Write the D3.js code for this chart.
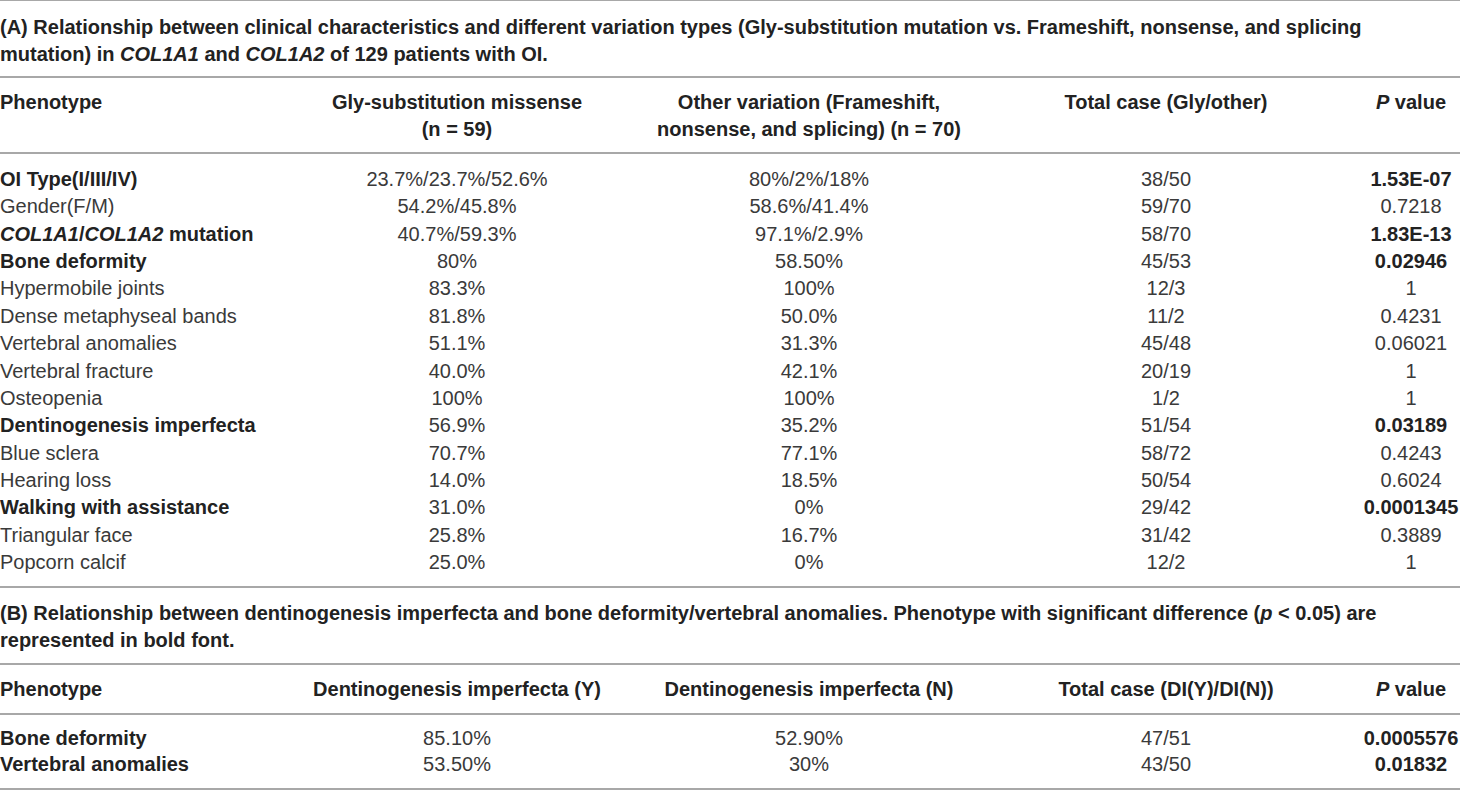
<!DOCTYPE html>
<html>
<head>
<meta charset="utf-8">
<script src="https://cdn.jsdelivr.net/npm/d3@7"></script>
<style>
  body { margin: 0; background: #fff; }
  text { font-family: "Liberation Sans", Arial, Helvetica, sans-serif; font-size: 20px; }
  .bold { font-weight: bold; fill: #222; }
  .reg { fill: #3a3a3a; }
  .rule { stroke: #a8a8a8; stroke-width: 2px; }
</style>
</head>
<body>
<div id="chart"></div>
<script>
// ---- table (A) ----
const titleA = [
  "(A) Relationship between clinical characteristics and different variation types (Gly-substitution mutation vs. Frameshift, nonsense, and splicing",
  "mutation) in _COL1A1_ and _COL1A2_ of 129 patients with OI."
];
const headersA = [
  ["Phenotype"],
  ["Gly-substitution missense", "(n = 59)"],
  ["Other variation (Frameshift,", "nonsense, and splicing) (n = 70)"],
  ["Total case (Gly/other)"],
  ["_P_ value"]
];
const phenotypesA = [
  "OI Type(I/III/IV)", "Gender(F/M)", "_COL1A1_/_COL1A2_ mutation", "Bone deformity",
  "Hypermobile joints", "Dense metaphyseal bands", "Vertebral anomalies", "Vertebral fracture",
  "Osteopenia", "Dentinogenesis imperfecta", "Blue sclera", "Hearing loss",
  "Walking with assistance", "Triangular face", "Popcorn calcif"
];
const glyA = ["23.7%/23.7%/52.6%", "54.2%/45.8%", "40.7%/59.3%", "80%", "83.3%", "81.8%", "51.1%",
  "40.0%", "100%", "56.9%", "70.7%", "14.0%", "31.0%", "25.8%", "25.0%"];
const otherA = ["80%/2%/18%", "58.6%/41.4%", "97.1%/2.9%", "58.50%", "100%", "50.0%", "31.3%",
  "42.1%", "100%", "35.2%", "77.1%", "18.5%", "0%", "16.7%", "0%"];
const totalA = ["38/50", "59/70", "58/70", "45/53", "12/3", "11/2", "45/48", "20/19", "1/2",
  "51/54", "58/72", "50/54", "29/42", "31/42", "12/2"];
const pA = ["1.53E-07", "0.7218", "1.83E-13", "0.02946", "1", "0.4231", "0.06021", "1", "1",
  "0.03189", "0.4243", "0.6024", "0.0001345", "0.3889", "1"];

// ---- table (B) ----
const titleB = [
  "(B) Relationship between dentinogenesis imperfecta and bone deformity/vertebral anomalies. Phenotype with significant difference (_p_ < 0.05) are",
  "represented in bold font."
];
const headersB = [
  ["Phenotype"],
  ["Dentinogenesis imperfecta (Y)"],
  ["Dentinogenesis imperfecta (N)"],
  ["Total case (DI(Y)/DI(N))"],
  ["_P_ value"]
];
const phenotypesB = ["Bone deformity", "Vertebral anomalies"];
const diYes = ["85.10%", "53.50%"];
const diNo = ["52.90%", "30%"];
const totalB = ["47/51", "43/50"];
const pB = ["0.0005576", "0.01832"];

const width = 1460, height = 791;
const alpha = 0.05;

const svg = d3.select("#chart").append("svg")
    .attr("width", width)
    .attr("height", height);

// column placement
const colX = d3.scaleOrdinal().domain([0, 1, 2, 3, 4]).range([0, 457, 809, 1166, 1411]);
const colAnchor = i => i === 0 ? "start" : "middle";

// text with _italic_ segments
function richText(sel, str) {
    str.split("_").forEach((part, i) => {
        if (part === "") return;
        sel.append("tspan")
            .style("font-style", i % 2 === 1 ? "italic" : "normal")
            .text(part);
    });
}

function rule(y) {
    svg.append("line").attr("class", "rule")
        .attr("x1", 0).attr("x2", width)
        .attr("y1", y).attr("y2", y);
}

function drawTable(opt) {
    let g = svg.append("g");

    // caption
    opt.title.forEach((line, i) => {
        g.append("text").attr("class", "bold")
            .attr("x", 0).attr("y", opt.titleY + i * 27)
            .call(richText, line);
    });

    // header
    opt.headers.forEach((lines, c) => {
        lines.forEach((line, i) => {
            g.append("text").attr("class", "bold")
                .attr("x", colX(c)).attr("y", opt.headerY + i * 27)
                .attr("text-anchor", colAnchor(c))
                .call(richText, line);
        });
    });

    // body rows
    let y = d3.scaleLinear()
        .domain([0, opt.rows.length - 1])
        .range(opt.rowRange);

    let rows = g.selectAll(".row")
        .data(opt.rows)
        .enter().append("g")
        .attr("class", "row")
        .attr("transform", (d, i) => "translate(0," + y(i) + ")");

    rows.each(function (d) {
        let sig = +d[4] < alpha;
        let row = d3.select(this);
        d.forEach((cell, c) => {
            let bold = sig && (c === 0 || c === 4);
            row.append("text")
                .attr("class", bold ? "bold" : "reg")
                .attr("x", colX(c))
                .attr("text-anchor", colAnchor(c))
                .call(richText, cell);
        });
    });
}

let rowsA = phenotypesA.map((p, i) => [p, glyA[i], otherA[i], totalA[i], pA[i]]);
let rowsB = phenotypesB.map((p, i) => [p, diYes[i], diNo[i], totalB[i], pB[i]]);

drawTable({ title: titleA, titleY: 34, headers: headersA, headerY: 109, rows: rowsA, rowRange: [186, 569] });
drawTable({ title: titleB, titleY: 620, headers: headersB, headerY: 696, rows: rowsB, rowRange: [745, 771] });

[0, 77, 153, 587, 664, 714, 789].forEach(rule);
</script>
</body>
</html>
